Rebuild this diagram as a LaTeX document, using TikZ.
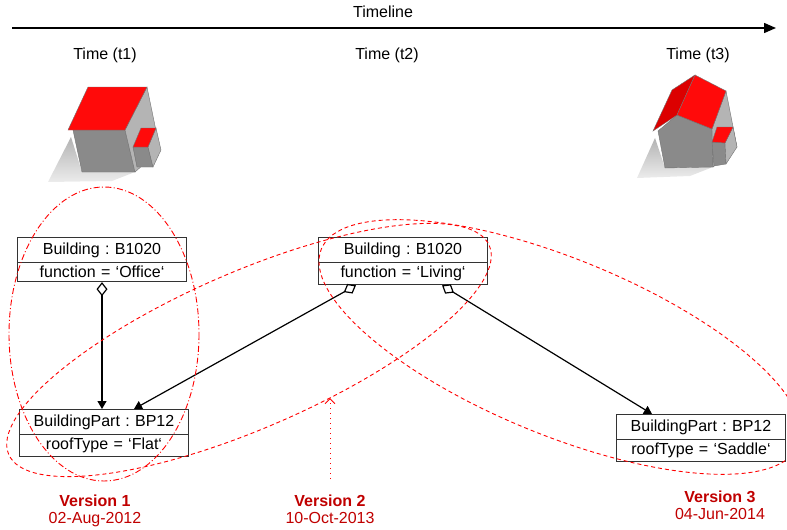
\documentclass[tikz,border=0pt]{standalone}
\usepackage{fontspec}
\setmainfont{Liberation Sans}
\usepackage{xcolor}
\usepackage{tikz}
\usetikzlibrary{positioning,shapes.multipart,arrows.meta}
\definecolor{verred}{RGB}{192,0,0}
\definecolor{roofred}{RGB}{255,10,10}
\definecolor{roofdark}{RGB}{220,0,0}
\definecolor{wallgray}{RGB}{138,138,138}
\definecolor{sidegray}{RGB}{180,180,180}
\definecolor{shadowgray}{RGB}{205,205,205}
\frenchspacing

\begin{document}
\begin{tikzpicture}[x=0.5pt, y=-0.5pt, node distance=2.5pt,
    every node/.style={font=\fontsize{8}{9.6}\selectfont, inner sep=0pt},
    obj/.style={draw=black!80, line width=0.5pt, rectangle split, rectangle split parts=2, anchor=north west,
        minimum width=84.5pt, text width=80pt, align=center, inner xsep=2pt, inner ysep=1.6pt, text height=6.4pt, text depth=2.4pt},
    agg/.style={draw, line width=0.6pt, {Diamond[open, length=7pt, width=5.5pt]}-{Triangle[length=4pt, width=4.5pt]}},
    vone/.style={draw=red, line width=0.45pt, dash pattern=on 3pt off 1.2pt on 0.5pt off 1.2pt},
    vtwo/.style={draw=red, line width=0.45pt, dash pattern=on 2pt off 1.5pt},
    vlab/.style={text=verred, font=\fontsize{8}{9.6}\selectfont\bfseries},
    vdate/.style={text=verred},
    edge/.style={draw=black!55, line width=0.2pt}]

    \useasboundingbox (0,0) rectangle (787,530);

    \node (tl) at (383,12) {Timeline};
    \coordinate (tls) at (12,28);
    \coordinate (tle) at (776,28);
    \draw[line width=0.7pt, -{Triangle[length=6pt, width=5pt]}] (tls) -- (tle);

    \node (t1) at (105,55) {Time (t1)};
    \node (t2) at (387,55) {Time (t2)};
    \node (t3) at (698,55) {Time (t3)};

    \shade[top color=gray!60, bottom color=gray!15] (71,137) -- (48,182) -- (112,181) -- (135,172) -- (82,172) -- cycle;
    \fill[wallgray, edge] (73,130) -- (125,130) -- (135,172) -- (82,172) -- cycle;
    \fill[sidegray, edge] (125,130) -- (147,87) -- (160,150) -- (135,172) -- cycle;
    \fill[roofred, edge] (68,130) -- (88,87) -- (147,87) -- (125,130) -- cycle;
    \fill[wallgray, edge] (133,147) -- (148,147) -- (153,167) -- (137,167) -- cycle;
    \fill[sidegray, edge] (148,147) -- (156,128) -- (161,150) -- (153,167) -- cycle;
    \fill[roofred, edge] (133,147) -- (141,128) -- (156,128) -- (148,147) -- cycle;

    \shade[top color=gray!60, bottom color=gray!15] (655,138) -- (637,178) -- (690,176) -- (713,167) -- (665,168) -- cycle;
    \fill[wallgray, edge] (658,131) -- (677,115) -- (712,129) -- (713,167) -- (665,168) -- cycle;
    \fill[sidegray, edge] (712,129) -- (726,91) -- (737,147) -- (713,167) -- cycle;
    \fill[roofdark, edge] (653,131) -- (672,90) -- (695,75) -- (677,115) -- cycle;
    \fill[roofred, edge] (677,115) -- (695,75) -- (726,91) -- (712,129) -- cycle;
    \fill[wallgray, edge] (712,142) -- (725,143) -- (726,164) -- (714,166) -- cycle;
    \fill[sidegray, edge] (725,143) -- (733,127) -- (737,147) -- (726,164) -- cycle;
    \fill[roofred, edge] (712,142) -- (717,127) -- (733,127) -- (725,143) -- cycle;

    \node[obj] (b1) at (17,237) {Building : B1020 \nodepart{second} function = ‘Office‘};
    \node[obj] (b2) at (318,237) {Building : B1020 \nodepart{second} function = ‘Living‘};
    \node[obj] (b3) at (19,409) {BuildingPart : BP12 \nodepart{second} roofType = ‘Flat‘};
    \node[obj] (b4) at (616,414) {BuildingPart : BP12 \nodepart{second} roofType = ‘Saddle‘};

    \draw[agg] (b1.south) -- (b1.south |- b3.north);
    \draw[agg] ([xshift=-23.5pt]b2.south) -- ([xshift=15pt]b3.north);
    \draw[agg] ([xshift=19.5pt]b2.south) -- ([xshift=-24.5pt]b4.north);

    \draw[vone] (104,334) ellipse [x radius=95, y radius=147];
    \draw[vtwo, rotate around={23.5:(249,350)}] (249,350) ellipse [x radius=262, y radius=78];
    \draw[vtwo, rotate around={-22.3:(560,347)}] (560,347) ellipse [x radius=258, y radius=88];

    \node[vlab] (v1) at (95,501) {Version 1};
    \node[vdate, below=of v1] (d1) {02-Aug-2012};
    \node[vlab] (v2) at (330,501) {Version 2};
    \node[vdate, below=of v2] (d2) {10-Oct-2013};
    \node[vlab] (v3) at (720,497) {Version 3};
    \node[vdate, below=of v3] (d3) {04-Jun-2014};

    \coordinate (v2hit) at (330,398);
    \draw[red, dotted, line width=0.5pt, shorten <=8pt, -{Straight Barb[length=2.5pt, width=5pt]}] (v2) -- (v2hit);
\end{tikzpicture}
\end{document}
